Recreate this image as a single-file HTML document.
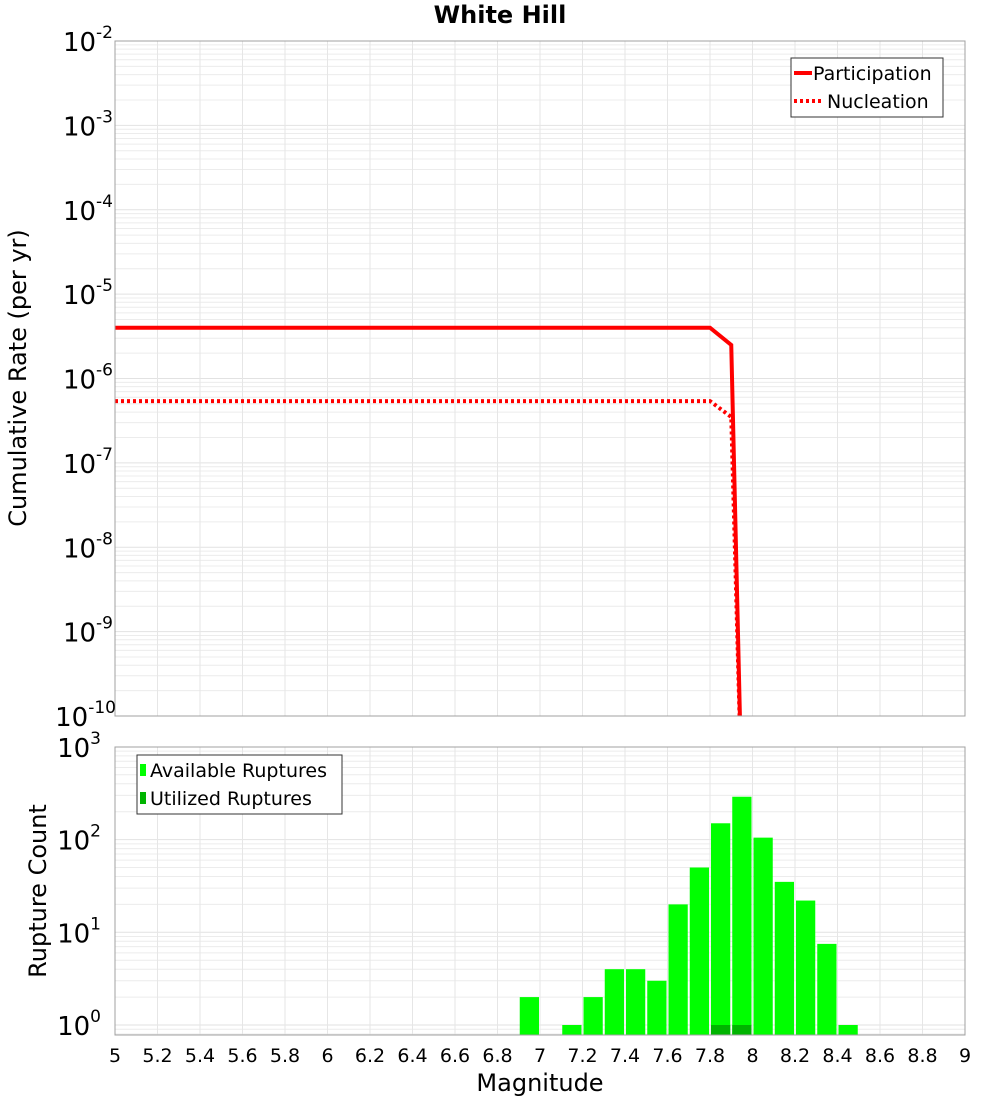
<!DOCTYPE html>
<html><head><meta charset="utf-8"><style>
body{margin:0;background:#fff;font-family:"Liberation Sans","DejaVu Sans",sans-serif}
svg text{font-family:"DejaVu Sans","Liberation Sans",sans-serif}
</style></head><body>
<svg id="c" width="1000" height="1100" xmlns="http://www.w3.org/2000/svg"></svg>
<script>
const xTicks=[5,5.2,5.4,5.6,5.8,6,6.2,6.4,6.6,6.8,7,7.2,7.4,7.6,7.8,8,8.2,8.4,8.6,8.8,9];
const partMags=[5,7.8,7.9,7.95];
const partRates=[4e-6,4e-6,2.5e-6,1e-11];
const nuclMags=[5,7.8,7.9,7.95];
const nuclRates=[5.4e-7,5.4e-7,3.5e-7,1e-11];
const barMags=[6.95,7.15,7.25,7.35,7.45,7.55,7.65,7.75,7.85,7.95,8.05,8.15,8.25,8.35,8.45];
const availCounts=[2,1,2,4,4,3,20,50,150,290,105,35,22,7.5,1];
const usedMags=[7.85,7.95];
const usedCounts=[1,1];
const topDecades=[-2,-3,-4,-5,-6,-7,-8,-9,-10];
const botDecades=[3,2,1,0];

const NS="http://www.w3.org/2000/svg";
const svg=document.getElementById('c');
function el(t,a,p){const e=document.createElementNS(NS,t);for(const k in a)e.setAttribute(k,a[k]);(p||svg).appendChild(e);return e;}
const X0=115,X1=965;
const xs=m=>X0+(m-5)/(9-5)*(X1-X0);
const T0=41,T1=716;
const yTop=v=>T0+(-2-Math.log10(v))*(T1-T0)/8;
const B0=747,B1=1035,BZ=1025,BD=92.7;
const yBot=v=>BZ-Math.log10(v)*BD;

const defs=el('defs',{});
const cp1=el('clipPath',{id:'cp1'},defs);el('rect',{x:X0,y:T0,width:X1-X0,height:T1-T0},cp1);
const cp2=el('clipPath',{id:'cp2'},defs);el('rect',{x:X0,y:B0,width:X1-X0,height:B1-B0},cp2);

function grid(top,bot,yf,dmin,dmax,name){
  const g=el('g',{'clip-path':'url(#'+(name==='top'?'cp1':'cp2')+')'});
  
  for(let d=dmin;d<=dmax;d++)for(let k=1;k<10;k++){const y=yf(k*Math.pow(10,d));
    if(y>=top&&y<=bot)el('line',{x1:X0,x2:X1,y1:y,y2:y,stroke:k==1?'#e2e2e2':'#ececec','stroke-width':1},g);}
  xTicks.forEach(m=>{const x=xs(m);el('line',{x1:x,x2:x,y1:top,y2:bot,stroke:'#e6e6e6','stroke-width':1},g);});
}
grid(T0,T1,yTop,-11,-3,'top');
grid(B0,B1,yBot,-1,2,'bottom');

const t=el('text',{x:500,y:23,'text-anchor':'middle','font-size':24,'font-weight':'bold'});t.textContent='White Hill';


function line(ms,rs,dash,name){
  const p=el('polyline',{points:ms.map((m,i)=>xs(m)+','+yTop(rs[i])).join(' '),fill:'none',stroke:'#ff0000','stroke-width':4,'clip-path':'url(#cp1)'});
  if(dash)p.setAttribute('stroke-dasharray','3,3');
  
}
line(partMags,partRates,false,'participation-line');
line(nuclMags,nuclRates,true,'nucleation-line');

const bw=0.1*(X1-X0)/4;
availCounts.forEach((c,i)=>{const x=xs(barMags[i])-bw/2+1;const y=yBot(c);
  const r=el('rect',{x:x,y:y,width:bw-2,height:B1-y,fill:'#00ff00','clip-path':'url(#cp2)'});
  });
usedCounts.forEach((c,i)=>{const x=xs(usedMags[i])-bw/2+1;const y=yBot(c);
  const r=el('rect',{x:x,y:y,width:bw-2,height:B1-y,fill:'#00b400','clip-path':'url(#cp2)'});
  });

const f1=el('rect',{x:X0,y:T0,width:X1-X0,height:T1-T0,fill:'none',stroke:'#a0a0a0'});

const f2=el('rect',{x:X0,y:B0,width:X1-X0,height:B1-B0,fill:'none',stroke:'#a0a0a0'});


function pow(x,y,e,name){const tx=el('text',{x:x,y:y,'text-anchor':'end','font-size':26});
  
  const a=el('tspan',{},tx);a.textContent='10';const b=el('tspan',{dy:-13,'font-size':17},tx);b.textContent=e;}
topDecades.forEach(d=>pow(d===-10?116:113,yTop(Math.pow(10,d))+10,String(d),'top-y-tick-label'));
botDecades.forEach(d=>pow(101,yBot(Math.pow(10,d))+10,String(d),'bottom-y-tick-label'));

xTicks.forEach(m=>{const tx=el('text',{x:xs(m),y:1062,'text-anchor':'middle','font-size':19});tx.textContent=String(m);
  });

let a=el('text',{x:540,y:1091,'text-anchor':'middle','font-size':24});a.textContent='Magnitude';

a=el('text',{x:0,y:0,'text-anchor':'middle','font-size':24,transform:'translate(26,378) rotate(-90)'});a.textContent='Cumulative Rate (per yr)';

a=el('text',{x:0,y:0,'text-anchor':'middle','font-size':24,transform:'translate(46,891) rotate(-90)'});a.textContent='Rupture Count';


let lg=el('g',{});
el('rect',{x:791,y:58,width:152,height:59,fill:'#fff',stroke:'#333'},lg);
el('line',{x1:794,x2:812,y1:73,y2:73,stroke:'#f00','stroke-width':4},lg);
el('line',{x1:794,x2:822,y1:101,y2:101,stroke:'#f00','stroke-width':4,'stroke-dasharray':'3,3'},lg);
let tt=el('text',{x:813,y:80,'font-size':19},lg);tt.textContent='Participation';
tt=el('text',{x:827,y:108,'font-size':19},lg);tt.textContent='Nucleation';

lg=el('g',{});
el('rect',{x:137,y:755,width:205,height:59,fill:'#fff',stroke:'#333'},lg);
el('rect',{x:140,y:764,width:6,height:12,fill:'#00ff00'},lg);
el('rect',{x:140,y:792,width:6,height:12,fill:'#00b400'},lg);
tt=el('text',{x:150,y:777,'font-size':19},lg);tt.textContent='Available Ruptures';
tt=el('text',{x:150,y:805,'font-size':19},lg);tt.textContent='Utilized Ruptures';
</script>
</body></html>
